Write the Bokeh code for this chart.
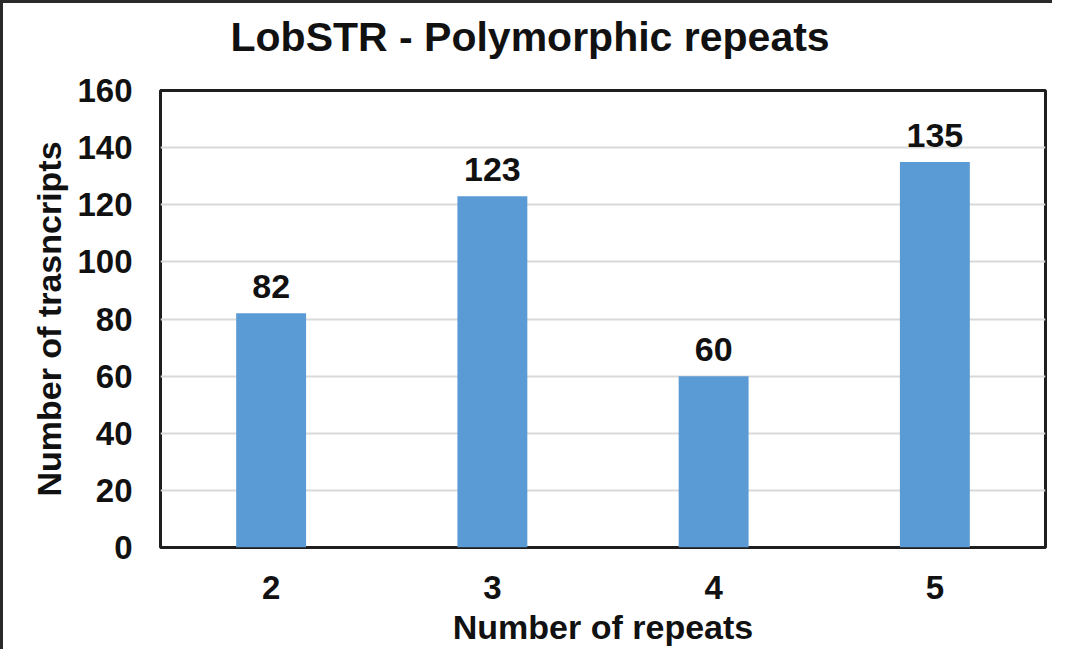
from bokeh.plotting import figure
from bokeh.models import FactorRange, Range1d, FixedTicker, ColumnDataSource, Title
from bokeh.core.properties import value
from bokeh.embed import file_html
from bokeh.resources import INLINE

categories = ["2", "3", "4", "5"]
counts = [82, 123, 60, 135]
y_ticks = [0, 20, 40, 60, 80, 100, 120, 140, 160]
title_text = "LobSTR - Polymorphic  repeats"

FONT = "Liberation Sans"
TXT = "#111111"

src = ColumnDataSource(dict(cat=categories, val=counts, lab=[str(v) for v in counts]))

p = figure(width=1052, height=649, output_backend="svg", toolbar_location=None, title=None,
           x_range=FactorRange(factors=categories), y_range=Range1d(0, 160),
           min_border_left=157, min_border_right=10, min_border_top=87, min_border_bottom=105)
p.styles = {"border-left": "3px solid #2a2a2a", "border-top": "3px solid #2a2a2a"}

# spacer between title and plot frame (nearest the frame)
p.add_layout(Title(text=" ", text_font_size="2px", standoff=24), "above")
# main title (outermost)
p.add_layout(Title(text=title_text, text_font=FONT, text_font_size="41px",
                   text_font_style="bold", text_color=TXT, align="left",
                   offset=70, standoff=6), "above")

p.vbar(x="cat", top="val", width=0.316, source=src, fill_color="#5B9BD5", line_color=None)
p.text(x="cat", y="val", text="lab", source=src, text_align="center", text_baseline="bottom",
       y_offset=-15, text_font=value(FONT), text_font_size="34px", text_font_style="bold",
       text_color=TXT)

p.outline_line_color = "#1e1e1e"
p.outline_line_width = 3

p.xgrid.grid_line_color = None
p.ygrid.grid_line_color = "#d9d9d9"
p.ygrid.grid_line_width = 2
p.yaxis.ticker = FixedTicker(ticks=y_ticks)

for ax in (p.xaxis[0], p.yaxis[0]):
    ax.axis_line_color = None
    ax.major_tick_line_color = None
    ax.minor_tick_line_color = None
    ax.major_tick_out = 0
    ax.major_tick_in = 0
    ax.major_label_text_font = FONT
    ax.major_label_text_font_size = "33px"
    ax.major_label_text_font_style = "bold"
    ax.major_label_text_color = TXT
    ax.axis_label_text_font = FONT
    ax.axis_label_text_font_size = "34px"
    ax.axis_label_text_font_style = "bold"
    ax.axis_label_text_color = TXT

p.yaxis.major_label_standoff = 28
p.xaxis.major_label_standoff = 28
p.xaxis.axis_label = "Number of repeats"
p.yaxis.axis_label = "Number of trasncripts"
p.xaxis.axis_label_standoff = 6
p.yaxis.axis_label_standoff = 6

open("out.html", "w").write(file_html(p, INLINE))
